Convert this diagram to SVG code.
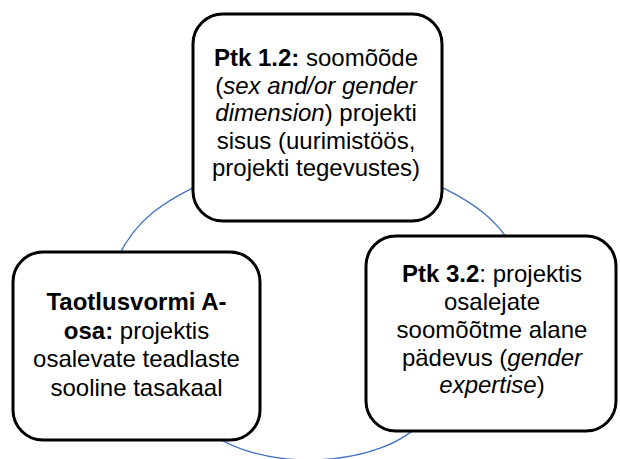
<svg xmlns="http://www.w3.org/2000/svg" width="620" height="459" viewBox="0 0 620 459">
<style>
.box{fill:#fff;stroke:#000;stroke-width:3}
.lbl{font-family:"Liberation Sans",Arial,sans-serif;font-size:24px;fill:#000;text-anchor:middle}
.b{font-weight:bold}
.i{font-style:italic}
.arc{fill:none;stroke:#4472C4;stroke-width:1.3}
</style>
<rect width="620" height="459" fill="#fff"/>
<g id="connectors">
<path class="arc" d="M112 272 C132 215 172 198 215 177"/>
<path class="arc" d="M524 272 C504 215 464 198 421 177"/>
<path class="arc" d="M205 428 C255 474 385 470 425 418"/>
</g>
<g id="node-top">
<rect class="box" x="193" y="14" width="249" height="207" rx="30"/>
<text class="lbl" x="316" y="66"><tspan class="b">Ptk 1.2:</tspan> soomõõde</text>
<text class="lbl" x="316" y="93.5">(<tspan class="i">sex and/or gender</tspan></text>
<text class="lbl" x="316" y="121"><tspan class="i">dimension</tspan>) projekti</text>
<text class="lbl" x="316" y="148.5">sisus (uurimistöös,</text>
<text class="lbl" x="316" y="176">projekti tegevustes)</text>
</g>
<g id="node-right">
<rect class="box" x="366" y="236" width="250" height="195" rx="30"/>
<text class="lbl" x="492" y="282"><tspan class="b">Ptk 3.2</tspan>: projektis</text>
<text class="lbl" x="492" y="310">osalejate</text>
<text class="lbl" x="492" y="337.5">soomõõtme alane</text>
<text class="lbl" x="492" y="365.5">pädevus (<tspan class="i">gender</tspan></text>
<text class="lbl" x="492" y="393"><tspan class="i">expertise</tspan>)</text>
</g>
<g id="node-left">
<rect class="box" x="13" y="252" width="247" height="188" rx="30"/>
<text class="lbl b" x="136.5" y="310">Taotlusvormi A-</text>
<text class="lbl" x="136.5" y="338.5"><tspan class="b">osa:</tspan> projektis</text>
<text class="lbl" x="136.5" y="367">osalevate teadlaste</text>
<text class="lbl" x="136.5" y="395.5">sooline tasakaal</text>
</g>
</svg>
